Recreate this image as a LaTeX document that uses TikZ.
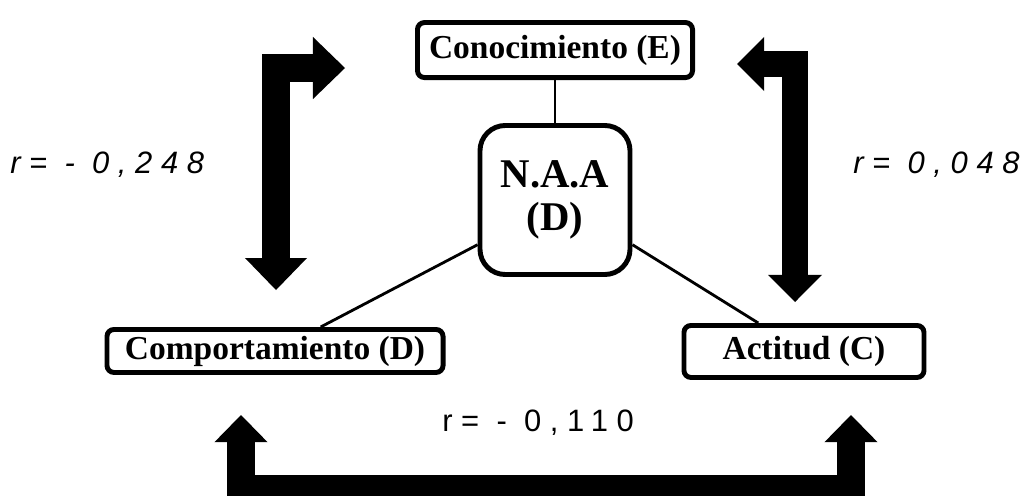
\documentclass[tikz,border=0pt]{standalone}
\usepackage{fontspec}
\setmainfont{Liberation Serif}
\newfontfamily\corrfont[LetterSpace=28]{Liberation Sans}
\usetikzlibrary{arrows.meta,positioning}

\begin{document}
\begin{tikzpicture}[
    x=0.025cm, y=-0.025cm,
    block/.style={
        draw,
        line width=3.5pt,
        rounded corners=5pt,
        inner sep=0pt,
        align=center,
        font=\bfseries\fontsize{23.8pt}{26pt}\selectfont
    },
    hub/.style={
        block,
        rounded corners=18pt,
        minimum width=3.75cm,
        minimum height=3.725cm,
        font=\bfseries\fontsize{29pt}{31pt}\selectfont
    },
    link/.style={line width=2pt},
    bigarrow/.style n args={3}{
        line width=#1,
        line join=miter,
        {Triangle[width=#2,length=#3,line width=0pt]}-{Triangle[width=#2,length=#3,line width=0pt]}
    },
    corr/.style={font=\corrfont\fontsize{22pt}{24pt}\selectfont, anchor=base west, inner sep=0pt},
    corrit/.style={corr, font=\corrfont\itshape\fontsize{22pt}{24pt}\selectfont}
]
\useasboundingbox (0,0) rectangle (1024,495);

% ---- Boxes ----
\node[hub] (naa) at (555,200) {N.A.A\\(D)};
\node[block, minimum width=6.875cm, minimum height=1.375cm, above=1.075cm of naa] (cono) {Conocimiento (E)};
\node[block, minimum width=8.4cm, minimum height=1.075cm, below left=1.25cm and 0.8cm of naa] (comp) {Comportamiento (D)};
\node[block, minimum width=6cm, minimum height=1.3cm, below right=1.15cm and 1.225cm of naa] (acti) {Actitud (C)};

% ---- Links to the centre ----
\draw[link] (cono) -- (naa);
\draw[link] (naa.210) -- (comp);
\draw[link] (naa.330) -- (acti);

% ---- Correlation arrows ----
\coordinate (lt) at (345,68);
\coordinate (lc) at (276,68);
\coordinate (lb) at (276,290);
\coordinate (rt) at (737,64);
\coordinate (rc) at (795,64);
\coordinate (rb) at (795,302);
\coordinate (bl) at (241,415);
\coordinate (bcl) at (241,489);
\coordinate (bcr) at (851,489);
\coordinate (br) at (851,415);

\draw[bigarrow={0.7cm}{1.55cm}{0.8cm}] (lt) -- (lc) -- (lb);
\draw[bigarrow={0.63cm}{1.35cm}{0.68cm}] (rt) -- (rc) -- (rb);
\draw[bigarrow={0.7cm}{1.33cm}{0.68cm}] (bl) -- (bcl) -- (bcr) -- (br);

% ---- r values ----
\node[corrit] (rce) at (10,173) {r= - 0,248};
\node[corrit] (rca) at (853,173) {r= 0,048};
\node[corr] (rcc) at (442,431) {r= - 0,110};

\end{tikzpicture}
\end{document}
